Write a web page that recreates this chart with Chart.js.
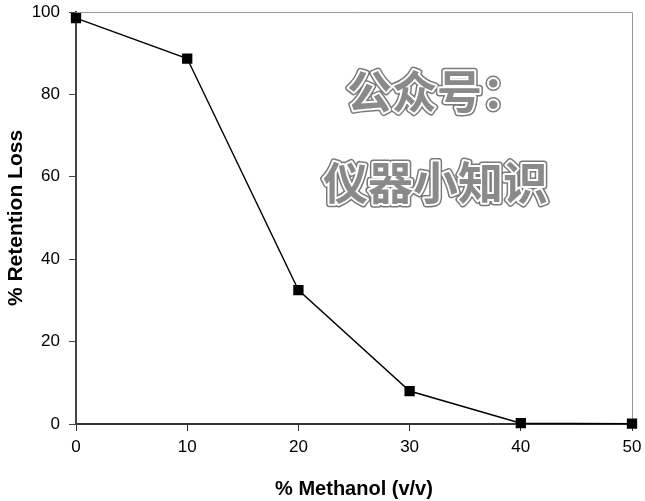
<!DOCTYPE html>
<html>
<head>
<meta charset="utf-8">
<script src="https://cdn.jsdelivr.net/npm/chart.js@4/dist/chart.umd.min.js"></script>
<style>
  body { margin: 0; background: #fff; }
  #wrap { width: 645px; height: 501px; }
</style>
</head>
<body>
<div id="wrap"><canvas id="chart" width="645" height="501"></canvas></div>
<script>
// datos
const methanol = [0, 10, 20, 30, 40, 50];
const retentionLoss = [98.5, 88.7, 32.5, 8.0, 0.2, 0.1];
const xTicks = [0, 10, 20, 30, 40, 50];
const yTicks = [0, 20, 40, 60, 80, 100];
const watermark = ['公众号：', '仪器小知识'];

const points = methanol.map((m, i) => ({ x: m, y: retentionLoss[i] }));

// marco gris arriba y a la derecha + marca de agua
const extras = {
  id: 'extras',
  beforeDatasetsDraw(chart) {
    const { ctx, chartArea: a } = chart;
    ctx.save();
    ctx.strokeStyle = '#9a9a9a';
    ctx.lineWidth = 1;
    ctx.beginPath();
    ctx.moveTo(a.left, a.top + 0.5);
    ctx.lineTo(a.right + 0.5, a.top + 0.5);
    ctx.lineTo(a.right + 0.5, a.bottom);
    ctx.stroke();
    ctx.restore();
  },
  afterDraw(chart) {
    const ctx = chart.ctx;
    ctx.save();
    ctx.font = 'bold 45px "Noto Sans CJK SC"';
    ctx.textBaseline = 'middle';
    ctx.textAlign = 'left';
    ctx.lineJoin = 'round';
    const lines = [[347, 92, watermark[0]], [323, 183, watermark[1]]];
    lines.forEach(([x, y, t]) => {
      ctx.strokeStyle = '#7a7a7a';
      ctx.lineWidth = 7;
      ctx.strokeText(t, x, y);
      ctx.strokeStyle = '#ffffff';
      ctx.lineWidth = 4;
      ctx.strokeText(t, x, y);
      ctx.fillStyle = '#8a8a8a';
      ctx.fillText(t, x, y);
    });
    ctx.restore();
  }
};

const ctx = document.getElementById('chart').getContext('2d');
const myChart = new Chart(ctx, {
  type: 'scatter',
  data: {
    datasets: [{
      data: points,
      showLine: true,
      clip: false,
      borderColor: '#000',
      borderWidth: 1.4,
      backgroundColor: '#000',
      pointStyle: 'rect',
      pointRadius: 6.3,
      pointHoverRadius: 6.3
    }]
  },
  options: {
    responsive: false,
    animation: false,
    layout: { padding: { top: 12, right: 13, left: 0, bottom: 0 } },
    plugins: { legend: { display: false }, tooltip: { enabled: false } },
    scales: {
      x: {
        type: 'linear',
        min: 0, max: 50,
        afterBuildTicks: (s) => { s.ticks = xTicks.map(v => ({ value: v })); },
        afterFit: (s) => { s.height = 77; s.paddingLeft = 0; s.paddingRight = 0; },
        border: { color: '#333', width: 2 },
        grid: { drawOnChartArea: false, drawTicks: true, tickLength: 7, color: '#333' },
        ticks: { color: '#000', font: { family: 'Liberation Sans', size: 17 }, padding: 6, maxRotation: 0 },
        title: {
          display: true, text: '% Methanol (v/v)', color: '#000',
          font: { family: 'Liberation Sans', size: 20, weight: 'bold' }, padding: { top: 19, bottom: 0 }
        }
      },
      y: {
        min: 0, max: 100,
        afterBuildTicks: (s) => { s.ticks = yTicks.map(v => ({ value: v })); },
        afterFit: (s) => { s.width = 76; s.paddingTop = 0; s.paddingBottom = 0; },
        border: { color: '#444', width: 2 },
        grid: { drawOnChartArea: false, drawTicks: true, tickLength: 7, color: '#444' },
        ticks: { color: '#000', font: { family: 'Liberation Sans', size: 17 }, padding: 9 },
        title: {
          display: true, text: '% Retention Loss', color: '#000',
          font: { family: 'Liberation Sans', size: 21, weight: 'bold' }, padding: { bottom: 0 }
        }
      }
    }
  },
  plugins: [extras]
});
</script>
</body>
</html>
